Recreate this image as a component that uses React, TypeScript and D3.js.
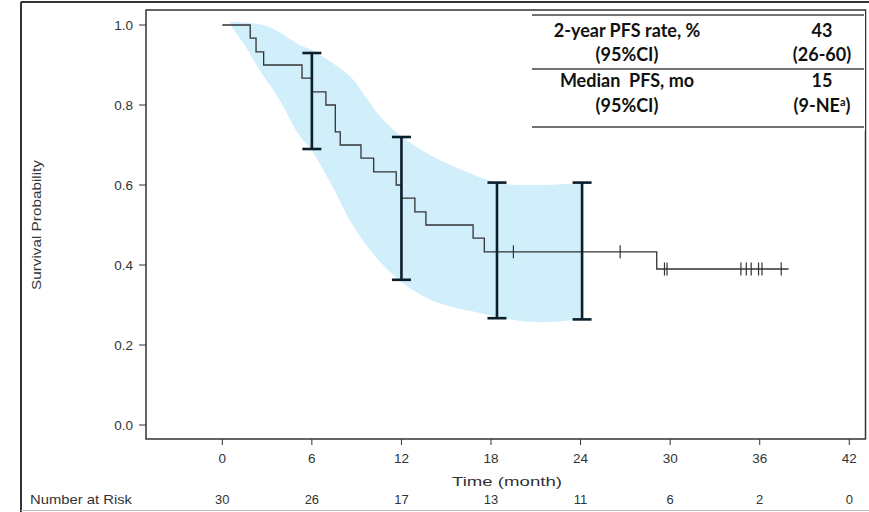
import React from 'react';
import * as d3 from 'd3';

const xTicks = [0, 6, 12, 18, 24, 30, 36, 42];
const yTicks = [0, 0.2, 0.4, 0.6, 0.8, 1.0];
const numberAtRisk = [30, 26, 17, 13, 11, 6, 2, 0];

const stepTimes = [0, 1.87, 2.26, 2.77, 5.34, 6.0, 6.94, 7.57, 7.9, 9.29, 10.14, 11.65, 12.0, 12.9, 13.64, 16.8, 17.55, 29.1];
const stepSurv = [1, 0.967, 0.933, 0.9, 0.867, 0.833, 0.8, 0.733, 0.7, 0.667, 0.633, 0.6, 0.567, 0.533, 0.5, 0.467, 0.433, 0.39];
const lastTime = 37.93;
const censorTimes = [19.5, 26.65, 29.62, 29.79, 34.74, 35.1, 35.43, 35.92, 36.15, 37.44];

const ciTimes = [6, 12, 18.4, 24.1];
const ciUpper = [0.93, 0.72, 0.606, 0.606];
const ciLower = [0.69, 0.363, 0.267, 0.264];

const bandUpperT = [0.5, 3.0, 5.2, 6.1, 8.6, 9.7, 10.8, 12.8, 15.3, 18.6, 21.3, 24.1];
const bandUpperS = [1.008, 0.997, 0.95, 0.935, 0.87, 0.815, 0.762, 0.70, 0.65, 0.605, 0.60, 0.605];
const bandLowerT = [0.6, 1.54, 2.41, 3.88, 5.09, 5.96, 7.43, 8.57, 10.11, 11.92, 14.13, 17.28, 19.96, 21.97, 24.1];
const bandLowerS = [0.997, 0.9475, 0.8925, 0.81, 0.7275, 0.6875, 0.5925, 0.51, 0.4275, 0.36, 0.31, 0.28, 0.26, 0.2575, 0.265];

const tableLeft = ['2-year PFS rate, %', '(95%CI)', 'Median  PFS, mo', '(95%CI)'];
const tableRight = ['43', '(26-60)', '15', '(9-NE'];

const W = 869;
const H = 512;

export default function App() {
  const x = d3.scaleLinear().domain([0, 42]).range([222.3, 849.3]);
  const y = d3.scaleLinear().domain([0, 1]).range([425, 25]);

  const survAt = (t: number) => {
    let s = 1;
    for (let i = 0; i < stepTimes.length; i++) if (stepTimes[i] <= t) s = stepSurv[i];
    return s;
  };

  const stepPts: [number, number][] = stepTimes.map((t, i) => [t, stepSurv[i]]);
  stepPts.push([lastTime, stepSurv[stepSurv.length - 1]]);
  const stepLine = d3
    .line<[number, number]>()
    .x((d) => x(d[0]))
    .y((d) => y(d[1]))
    .curve(d3.curveStepAfter)(stepPts) as string;

  const curve = d3
    .line<[number, number]>()
    .x((d) => x(d[0]))
    .y((d) => y(d[1]))
    .curve(d3.curveCatmullRom.alpha(0.5));
  const upPts: [number, number][] = bandUpperT.map((t, i) => [t, bandUpperS[i]]);
  const loPts: [number, number][] = bandLowerT.map((t, i) => [t, bandLowerS[i]] as [number, number]).reverse();
  const upPath = curve(upPts) as string;
  const loPath = (curve(loPts) as string).replace(/^M/, 'L');
  const bandPath = upPath + loPath + 'Z';

  const axisFont = "Arial, 'Liberation Sans', sans-serif";
  const tableFont = "Lato, 'Open Sans', sans-serif";
  const tColor = '#333';
  const frameLeft = 146;
  const frameTop = 10;
  const frameRight = 865.5;
  const frameBottom = 439;

  const rowBaselines = [37, 61, 87, 112];

  return (
    <svg width={W} height={H} style={{ position: 'absolute', left: 0, top: 0, background: '#fff' }}>
      {/* outer border */}
      <line x1={21} y1={2} x2={W} y2={2} stroke="#333" strokeWidth={2} />
      <line x1={21} y1={2} x2={21} y2={H} stroke="#333" strokeWidth={2} />
      <line x1={21} y1={510.5} x2={W} y2={510.5} stroke="#bbb" strokeWidth={1} />

      {/* CI band */}
      <path d={bandPath} fill="#d1eefb" stroke="none" />

      {/* plot frame */}
      <rect x={frameLeft} y={frameTop} width={frameRight - frameLeft} height={frameBottom - frameTop} fill="none" stroke="#333" strokeWidth={1.5} />

      {/* y ticks */}
      {yTicks.map((v) => (
        <g key={'y' + v}>
          <line x1={139} x2={frameLeft} y1={y(v)} y2={y(v)} stroke="#333" strokeWidth={1} />
          <text x={133} y={y(v)} dy="0.36em" textAnchor="end" fontFamily={axisFont} fontSize={13.5} fill={tColor}>
            {v.toFixed(1)}
          </text>
        </g>
      ))}
      <text
        transform={`translate(41,225) rotate(-90)`}
        textAnchor="middle"
        fontFamily={axisFont}
        fontSize={13}
        fill={tColor}
        textLength={130}
        lengthAdjust="spacingAndGlyphs"
      >
        Survival Probability
      </text>

      {/* x ticks */}
      {xTicks.map((v, i) => (
        <g key={'x' + v}>
          <line x1={x(v)} x2={x(v)} y1={frameBottom} y2={frameBottom + 6} stroke="#333" strokeWidth={1} />
          <text x={x(v)} y={463} textAnchor="middle" fontFamily={axisFont} fontSize={13.5} fill={tColor}>
            {v}
          </text>
          <text x={x(v)} y={504} textAnchor="middle" fontFamily={axisFont} fontSize={13} fill={tColor}>
            {numberAtRisk[i]}
          </text>
        </g>
      ))}
      <text x={507} y={486} textAnchor="middle" fontFamily={axisFont} fontSize={13.5} fill={tColor} textLength={110} lengthAdjust="spacingAndGlyphs">
        Time (month)
      </text>
      <text x={30} y={504} fontFamily={axisFont} fontSize={13} fill={tColor} textLength={102} lengthAdjust="spacingAndGlyphs">
        Number at Risk
      </text>

      {/* KM step line */}
      <path d={stepLine} fill="none" stroke="#333" strokeWidth={1.3} />
      {censorTimes.map((t, i) => (
        <line key={'c' + i} x1={x(t)} x2={x(t)} y1={y(survAt(t)) - 6.5} y2={y(survAt(t)) + 6.5} stroke="#333" strokeWidth={1.2} />
      ))}

      {/* CI error bars */}
      {ciTimes.map((t, i) => (
        <g key={'ci' + i} stroke="#0b1e2b" strokeWidth={2.6}>
          <line x1={x(t)} x2={x(t)} y1={y(ciUpper[i])} y2={y(ciLower[i])} />
          <line x1={x(t) - 9.5} x2={x(t) + 9.5} y1={y(ciUpper[i])} y2={y(ciUpper[i])} />
          <line x1={x(t) - 9.5} x2={x(t) + 9.5} y1={y(ciLower[i])} y2={y(ciLower[i])} />
        </g>
      ))}

      {/* table */}
      <rect x={532} y={11} width={333} height={120} fill="#fff" />
      <line x1={532} x2={864} y1={15} y2={15} stroke="#444" strokeWidth={1.3} />
      <line x1={532} x2={864} y1={69} y2={69} stroke="#444" strokeWidth={1.3} />
      <line x1={532} x2={864} y1={127} y2={127} stroke="#444" strokeWidth={1.3} />
      {tableLeft.map((s, i) => (
        <text key={'tl' + i} x={627} y={rowBaselines[i]} textAnchor="middle" fontFamily={tableFont} fontWeight="bold" fontSize={18} fill="#111" xmlSpace="preserve">
          {s}
        </text>
      ))}
      {tableRight.map((s, i) => (
        <text key={'tr' + i} x={822} y={rowBaselines[i]} textAnchor="middle" fontFamily={tableFont} fontWeight="bold" fontSize={18} fill="#111">
          {s}
          {i === 3 ? (
            <>
              <tspan dy={-6} fontSize={11}>a</tspan>
              <tspan dy={6}>)</tspan>
            </>
          ) : null}
        </text>
      ))}
    </svg>
  );
}
